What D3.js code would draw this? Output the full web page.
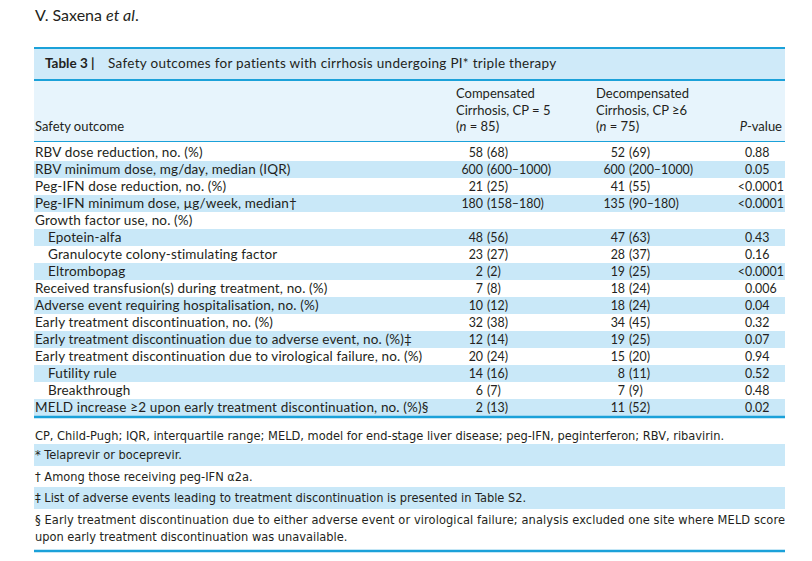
<!DOCTYPE html>
<html>
<head>
<meta charset="utf-8">
<script src="https://cdn.jsdelivr.net/npm/d3@7"></script>
<style>
  body { margin: 0; background: #fff; }
  text { fill: #231f20; }
  .body { font-family: Lato, "Open Sans", sans-serif; font-size: 13px; }
  .lab { font-size: 13.5px; letter-spacing: 0.15px; }
  .num { font-size: 12.4px; }
  .note { font-family: "DejaVu Sans Condensed", "DejaVu Sans", sans-serif; font-stretch: condensed; font-size: 12.7px; }
</style>
</head>
<body>
<svg id="chart" width="812" height="561"></svg>
<script>
// table content
var outcomes = [
  "RBV dose reduction, no. (%)",
  "RBV minimum dose, mg/day, median (IQR)",
  "Peg-IFN dose reduction, no. (%)",
  "Peg-IFN minimum dose, \u00b5g/week, median\u2020",
  "Growth factor use, no. (%)",
  "Epotein-alfa",
  "Granulocyte colony-stimulating factor",
  "Eltrombopag",
  "Received transfusion(s) during treatment, no. (%)",
  "Adverse event requiring hospitalisation, no. (%)",
  "Early treatment discontinuation, no. (%)",
  "Early treatment discontinuation due to adverse event, no. (%)\u2021",
  "Early treatment discontinuation due to virological failure, no. (%)",
  "Futility rule",
  "Breakthrough",
  "MELD increase \u22652 upon early treatment discontinuation, no. (%)\u00a7"
];
var subItem = [0,0,0,0,0,1,1,1,0,0,0,0,0,1,1,0];
var compensated = ["58 (68)","600 (600\u20131000)","21 (25)","180 (158\u2013180)","",
  "48 (56)","23 (27)","2 (2)","7 (8)","10 (12)","32 (38)","12 (14)","20 (24)","14 (16)","6 (7)","2 (13)"];
var decompensated = ["52 (69)","600 (200\u20131000)","41 (55)","135 (90\u2013180)","",
  "47 (63)","28 (37)","19 (25)","18 (24)","18 (24)","34 (45)","19 (25)","15 (20)","8 (11)","7 (9)","11 (52)"];
var pValues = ["0.88","0.05","<0.0001","<0.0001","","0.43","0.16","<0.0001","0.006","0.04","0.32","0.07","0.94","0.52","0.48","0.02"];

var footnotes = [
  "CP, Child-Pugh; IQR, interquartile range; MELD, model for end-stage liver disease; peg-IFN, peginterferon; RBV, ribavirin.",
  "* Telaprevir or boceprevir.",
  "\u2020 Among those receiving peg-IFN \u03b12a.",
  "\u2021 List of adverse events leading to treatment discontinuation is presented in Table S2.",
  "\u00a7 Early treatment discontinuation due to either adverse event or virological failure; analysis excluded one site where MELD score|upon early treatment discontinuation was unavailable."
];

var blue = "#1ba1d9", band = "#c9e8f8", pale = "#e7f4fc";
var left = 34, right = 785;
var svg = d3.select("#chart");

// author line
var au = svg.append("text").attr("x", 35).attr("y", 21).style("font-family", "Lato, sans-serif").style("font-size", "16px");
au.append("tspan").text("V. Saxena ");
au.append("tspan").style("font-style", "italic").text("et al");
au.append("tspan").text(".");

// title band
svg.append("rect").attr("x", left).attr("y", 48).attr("width", right - left).attr("height", 32).attr("fill", "#cfeaf9");
svg.append("rect").attr("x", left).attr("y", 80).attr("width", right - left).attr("height", 61).attr("fill", pale);
svg.append("line").attr("x1", left).attr("x2", right).attr("y1", 48).attr("y2", 48).attr("stroke", blue).attr("stroke-width", 2.2);
svg.append("line").attr("x1", left).attr("x2", right).attr("y1", 80).attr("y2", 80).attr("stroke", blue).attr("stroke-width", 2.2);
var title = svg.append("text").attr("class", "body").attr("x", 45).attr("y", 68).style("font-size", "13.5px");
title.append("tspan").style("font-weight", "bold").text("Table 3 |");
title.append("tspan").attr("x", 108).style("letter-spacing", "0.3px").text("Safety outcomes for patients with cirrhosis undergoing PI* triple therapy");

// header
var colComp = 483, colDec = 625, colP = 745;
svg.append("text").attr("class", "body").attr("x", 35).attr("y", 131).text("Safety outcome");
[["Compensated", "Cirrhosis, CP = 5", "85", 456], ["Decompensated", "Cirrhosis, CP \u22656", "75", 596]].forEach(function(h){
  var t = svg.append("text").attr("class", "body").attr("x", h[3]).attr("y", 98);
  t.append("tspan").attr("x", h[3]).attr("dy", 0).text(h[0]);
  t.append("tspan").attr("x", h[3]).attr("dy", 16.5).text(h[1]);
  var l3 = t.append("tspan").attr("x", h[3]).attr("dy", 16.5);
  l3.text("(");
  t.append("tspan").style("font-style", "italic").text("n");
  t.append("tspan").text(" = " + h[2] + ")");
});
var pv = svg.append("text").attr("class", "body").attr("x", 782).attr("y", 131).attr("text-anchor", "end");
pv.append("tspan").style("font-style", "italic").text("P");
pv.append("tspan").text("-value");
svg.append("line").attr("x1", left).attr("x2", right).attr("y1", 141.5).attr("y2", 141.5).attr("stroke", blue).attr("stroke-width", 1);

// rows
var y = d3.scaleBand().domain(d3.range(outcomes.length)).range([144, 416]);
var rows = svg.selectAll("g.row").data(outcomes).enter().append("g").attr("class", "row")
  .attr("transform", function(d, i){ return "translate(0," + y(i) + ")"; });
rows.append("rect").attr("x", left).attr("width", right - left).attr("height", y.bandwidth())
  .attr("fill", function(d, i){ return i % 2 ? band : "none"; });
rows.append("text").attr("class", "body lab").attr("y", 13)
  .attr("x", function(d, i){ return subItem[i] ? 48 : 35; }).text(function(d){ return d; });

function splitCell(g, values, x) {
  g.append("text").attr("class", "body num").attr("y", 13).attr("x", x).attr("text-anchor", "end")
    .text(function(d, i){ return values[i].split(" ")[0]; });
  g.append("text").attr("class", "body num").attr("y", 13).attr("x", x + 4)
    .text(function(d, i){ return values[i].split(" ").slice(1).join(" "); });
}
splitCell(rows, compensated, colComp);
splitCell(rows, decompensated, colDec);
rows.append("text").attr("class", "body num").attr("y", 13).attr("x", colP).attr("text-anchor", "end")
  .text(function(d, i){ return pValues[i].charAt(0) == "<" ? "<" : ""; });
rows.append("text").attr("class", "body num").attr("y", 13).attr("x", colP)
  .text(function(d, i){ return pValues[i].replace("<", ""); });

svg.append("line").attr("x1", left).attr("x2", right).attr("y1", 417).attr("y2", 417).attr("stroke", blue).attr("stroke-width", 2.4);

// footnotes
var noteTop = [425, 444, 466, 487, 509];
var noteH = [20, 22, 21, 22, 36];
footnotes.forEach(function(f, i){
  if (i % 2) svg.append("rect").attr("x", left).attr("y", noteTop[i]).attr("width", right - left).attr("height", noteH[i]).attr("fill", band);
  var lines = f.split("|");
  lines.forEach(function(l, j){
    var t = svg.append("text").attr("class", "note").attr("x", 35).attr("y", noteTop[i] + 15 + j * 17).text(l);
    if (lines.length > 1 && j == 0) t.attr("textLength", right - 35).attr("lengthAdjust", "spacing");
  });
});
svg.append("line").attr("x1", left).attr("x2", right).attr("y1", 551).attr("y2", 551).attr("stroke", blue).attr("stroke-width", 2.4);
</script>
</body>
</html>
